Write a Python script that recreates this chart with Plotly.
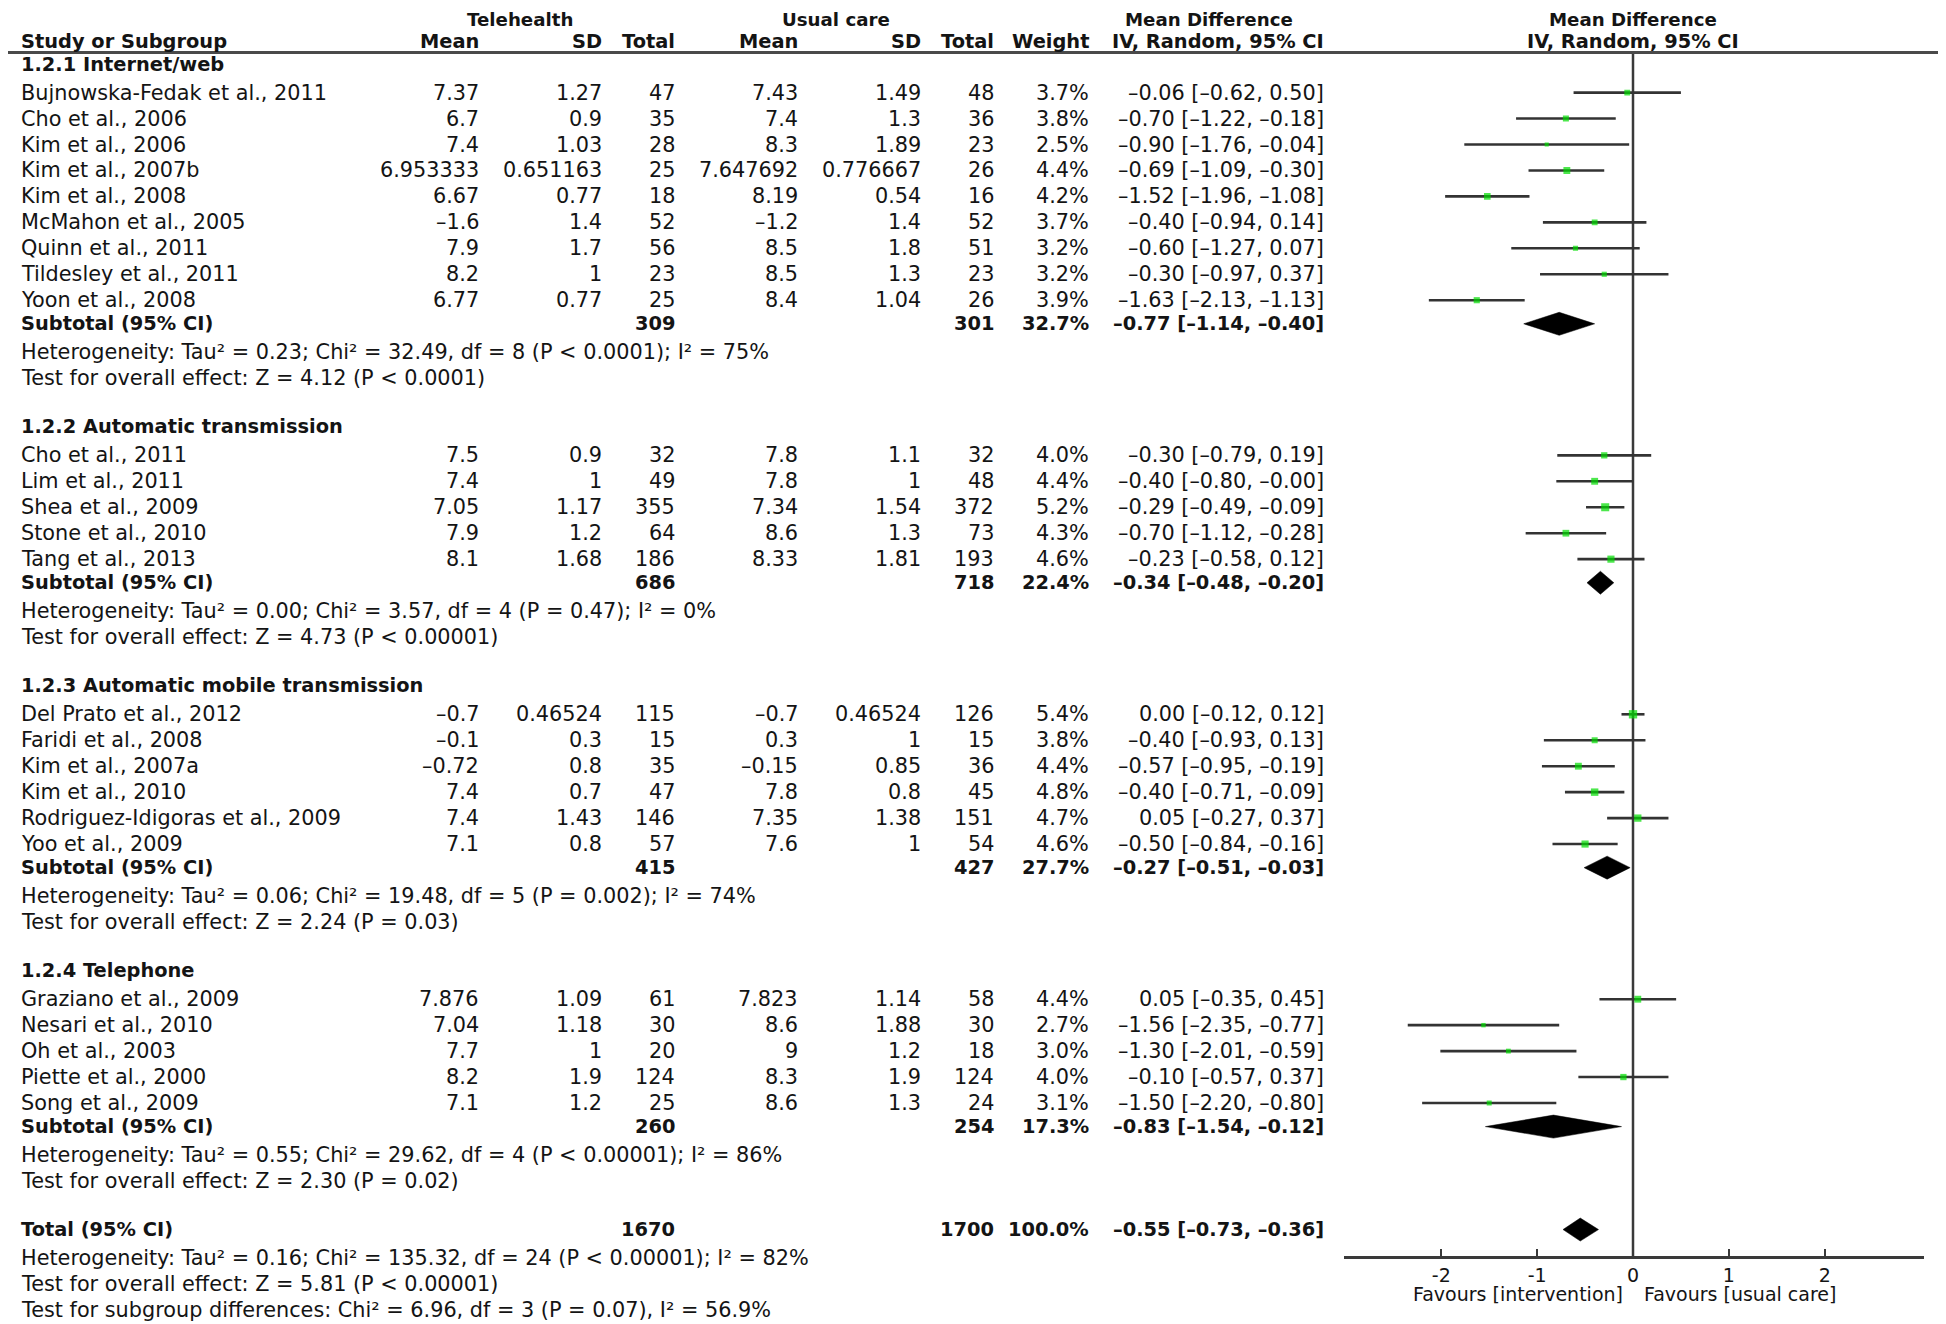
import plotly.graph_objects as go

# ------------------------------------------------------------------ data
GROUP_TITLES = ["1.2.1 Internet/web", "1.2.2 Automatic transmission",
                "1.2.3 Automatic mobile transmission", "1.2.4 Telephone"]

STUDIES = [
    "Bujnowska-Fedak et al., 2011", "Cho et al., 2006", "Kim et al., 2006", "Kim et al., 2007b",
    "Kim et al., 2008", "McMahon et al., 2005", "Quinn et al., 2011", "Tildesley et al., 2011",
    "Yoon et al., 2008",
    "Cho et al., 2011", "Lim et al., 2011", "Shea et al., 2009", "Stone et al., 2010", "Tang et al., 2013",
    "Del Prato et al., 2012", "Faridi et al., 2008", "Kim et al., 2007a", "Kim et al., 2010",
    "Rodriguez-Idigoras et al., 2009", "Yoo et al., 2009",
    "Graziano et al., 2009", "Nesari et al., 2010", "Oh et al., 2003", "Piette et al., 2000",
    "Song et al., 2009",
]
GROUP = [0] * 9 + [1] * 5 + [2] * 6 + [3] * 5

TH_MEAN = [7.37, 6.7, 7.4, 6.953333, 6.67, -1.6, 7.9, 8.2, 6.77,
           7.5, 7.4, 7.05, 7.9, 8.1,
           -0.7, -0.1, -0.72, 7.4, 7.4, 7.1,
           7.876, 7.04, 7.7, 8.2, 7.1]
TH_SD = [1.27, 0.9, 1.03, 0.651163, 0.77, 1.4, 1.7, 1.0, 0.77,
         0.9, 1.0, 1.17, 1.2, 1.68,
         0.46524, 0.3, 0.8, 0.7, 1.43, 0.8,
         1.09, 1.18, 1.0, 1.9, 1.2]
TH_N = [47, 35, 28, 25, 18, 52, 56, 23, 25,
        32, 49, 355, 64, 186,
        115, 15, 35, 47, 146, 57,
        61, 30, 20, 124, 25]
UC_MEAN = [7.43, 7.4, 8.3, 7.647692, 8.19, -1.2, 8.5, 8.5, 8.4,
           7.8, 7.8, 7.34, 8.6, 8.33,
           -0.7, 0.3, -0.15, 7.8, 7.35, 7.6,
           7.823, 8.6, 9.0, 8.3, 8.6]
UC_SD = [1.49, 1.3, 1.89, 0.776667, 0.54, 1.4, 1.8, 1.3, 1.04,
         1.1, 1.0, 1.54, 1.3, 1.81,
         0.46524, 1.0, 0.85, 0.8, 1.38, 1.0,
         1.14, 1.88, 1.2, 1.9, 1.3]
UC_N = [48, 36, 23, 26, 16, 52, 51, 23, 26,
        32, 48, 372, 73, 193,
        126, 15, 36, 45, 151, 54,
        58, 30, 18, 124, 24]
WEIGHT = [3.7, 3.8, 2.5, 4.4, 4.2, 3.7, 3.2, 3.2, 3.9,
          4.0, 4.4, 5.2, 4.3, 4.6,
          5.4, 3.8, 4.4, 4.8, 4.7, 4.6,
          4.4, 2.7, 3.0, 4.0, 3.1]
MD = [-0.06, -0.70, -0.90, -0.69, -1.52, -0.40, -0.60, -0.30, -1.63,
      -0.30, -0.40, -0.29, -0.70, -0.23,
      0.00, -0.40, -0.57, -0.40, 0.05, -0.50,
      0.05, -1.56, -1.30, -0.10, -1.50]
CI_LO = [-0.62, -1.22, -1.76, -1.09, -1.96, -0.94, -1.27, -0.97, -2.13,
         -0.79, -0.80, -0.49, -1.12, -0.58,
         -0.12, -0.93, -0.95, -0.71, -0.27, -0.84,
         -0.35, -2.35, -2.01, -0.57, -2.20]
CI_HI = [0.50, -0.18, -0.04, -0.30, -1.08, 0.14, 0.07, 0.37, -1.13,
         0.19, -0.00, -0.09, -0.28, 0.12,
         0.12, 0.13, -0.19, -0.09, 0.37, -0.16,
         0.45, -0.77, -0.59, 0.37, -0.80]

SUB_TH_N = [309, 686, 415, 260]
SUB_UC_N = [301, 718, 427, 254]
SUB_WEIGHT = [32.7, 22.4, 27.7, 17.3]
SUB_MD = [-0.77, -0.34, -0.27, -0.83]
SUB_LO = [-1.14, -0.48, -0.51, -1.54]
SUB_HI = [-0.40, -0.20, -0.03, -0.12]
SUB_HET = [
    "Heterogeneity: Tau² = 0.23; Chi² = 32.49, df = 8 (P < 0.0001); I² = 75%",
    "Heterogeneity: Tau² = 0.00; Chi² = 3.57, df = 4 (P = 0.47); I² = 0%",
    "Heterogeneity: Tau² = 0.06; Chi² = 19.48, df = 5 (P = 0.002); I² = 74%",
    "Heterogeneity: Tau² = 0.55; Chi² = 29.62, df = 4 (P < 0.00001); I² = 86%",
]
SUB_TEST = [
    "Test for overall effect: Z = 4.12 (P < 0.0001)",
    "Test for overall effect: Z = 4.73 (P < 0.00001)",
    "Test for overall effect: Z = 2.24 (P = 0.03)",
    "Test for overall effect: Z = 2.30 (P = 0.02)",
]

TOTAL_TH_N = 1670
TOTAL_UC_N = 1700
TOTAL_WEIGHT = 100.0
TOTAL_MD = -0.55
TOTAL_LO = -0.73
TOTAL_HI = -0.36
TOTAL_NOTES = [
    "Heterogeneity: Tau² = 0.16; Chi² = 135.32, df = 24 (P < 0.00001); I² = 82%",
    "Test for overall effect: Z = 5.81 (P < 0.00001)",
    "Test for subgroup differences: Chi² = 6.96, df = 3 (P = 0.07), I² = 56.9%",
]

TICKS = [-2, -1, 0, 1, 2]
TICK_LABELS = ["-2", "-1", "0", "1", "2"]
FAVOURS = ["Favours [intervention]", "Favours [usual care]"]

# ------------------------------------------------------------------ layout helpers
SCREEN_W, SCREEN_H = 1946, 1324
OFF = 8                      # default page margin of the html body
W, H = SCREEN_W - OFF, SCREEN_H - OFF
FONT = "DejaVu Sans"
REG = 20.8
BLD = 19.4
HDR1 = 18.2
TXT = "#141414"
GREY = "#3a3a3a"

COL_TH_MEAN, COL_TH_SD, COL_TH_N = 481, 604, 677
COL_UC_MEAN, COL_UC_SD, COL_UC_N = 800, 923, 996
COL_W, COL_CI = 1091, 1326
NAME_X = 19
X0_PX = 1633.0
UNIT_PX = 95.85


def px2paper(x_px):
    return (x_px - OFF) / W


def fmt_raw(v):
    s = repr(float(v))
    if s.endswith(".0"):
        s = s[:-2]
    return s.replace("-", "–")


def fmt2(v):
    return f"{v:.2f}".replace("-", "–")


def ci_text(m, lo, hi):
    return f"{fmt2(m)} [{fmt2(lo)}, {fmt2(hi)}]"


annotations = []


def txt(x_px, y_px, s, anchor="right", bold=False, size=None):
    annotations.append(dict(
        x=px2paper(x_px), xref="paper", y=y_px, yref="y", text=s, showarrow=False,
        xanchor=anchor, yanchor="middle",
        font=dict(family=FONT, size=size or (BLD if bold else REG), color=TXT,
                  weight="bold" if bold else "normal"),
    ))


# header
Y_H1, Y_H2, Y_LINE = 19.5, 41.5, 52.5
txt(520, Y_H1, "Telehealth", "center", True, HDR1)
txt(836, Y_H1, "Usual care", "center", True, HDR1)
txt(1209, Y_H1, "Mean Difference", "center", True, HDR1)
txt(X0_PX, Y_H1, "Mean Difference", "center", True, HDR1)
txt(NAME_X, Y_H2, "Study or Subgroup", "left", True)
for x, s in [(COL_TH_MEAN, "Mean"), (COL_TH_SD, "SD"), (COL_TH_N, "Total"),
             (COL_UC_MEAN, "Mean"), (COL_UC_SD, "SD"), (COL_UC_N, "Total"),
             (COL_W, "Weight"), (COL_CI, "IV, Random, 95% CI")]:
    txt(x, Y_H2, s, "right", True)
txt(X0_PX, Y_H2, "IV, Random, 95% CI", "center", True)

# rows
STEP = 25.95
study_y = [0.0] * len(STUDIES)
sub_y = []
y = 64.0
for g, title in enumerate(GROUP_TITLES):
    txt(NAME_X, y, title, "left", True)
    idx = [i for i, gg in enumerate(GROUP) if gg == g]
    yy = y + 28.6
    for k, i in enumerate(idx):
        study_y[i] = yy + k * STEP
    last = study_y[idx[-1]]
    ys = last + 23.6
    sub_y.append(ys)
    txt(NAME_X, ys, "Subtotal (95% CI)", "left", True)
    txt(COL_TH_N, ys, str(SUB_TH_N[g]), "right", True)
    txt(COL_UC_N, ys, str(SUB_UC_N[g]), "right", True)
    txt(COL_W, ys, f"{SUB_WEIGHT[g]:.1f}%", "right", True)
    txt(COL_CI, ys, ci_text(SUB_MD[g], SUB_LO[g], SUB_HI[g]), "right", True)
    txt(NAME_X, ys + 28.6, SUB_HET[g], "left")
    txt(NAME_X, ys + 28.6 + STEP, SUB_TEST[g], "left")
    y = ys + 28.6 + STEP + 48.4

for i, name in enumerate(STUDIES):
    yy = study_y[i]
    txt(NAME_X, yy, name, "left")
    txt(COL_TH_MEAN, yy, fmt_raw(TH_MEAN[i]))
    txt(COL_TH_SD, yy, fmt_raw(TH_SD[i]))
    txt(COL_TH_N, yy, str(TH_N[i]))
    txt(COL_UC_MEAN, yy, fmt_raw(UC_MEAN[i]))
    txt(COL_UC_SD, yy, fmt_raw(UC_SD[i]))
    txt(COL_UC_N, yy, str(UC_N[i]))
    txt(COL_W, yy, f"{WEIGHT[i]:.1f}%")
    txt(COL_CI, yy, ci_text(MD[i], CI_LO[i], CI_HI[i]))

total_y = y
txt(NAME_X, total_y, "Total (95% CI)", "left", True)
txt(COL_TH_N, total_y, str(TOTAL_TH_N), "right", True)
txt(COL_UC_N, total_y, str(TOTAL_UC_N), "right", True)
txt(COL_W, total_y, f"{TOTAL_WEIGHT:.1f}%", "right", True)
txt(COL_CI, total_y, ci_text(TOTAL_MD, TOTAL_LO, TOTAL_HI), "right", True)
for k, s in enumerate(TOTAL_NOTES):
    txt(NAME_X, total_y + 28.6 + k * STEP, s, "left")

# axis position
AXIS_Y = 1257.0
txt(X0_PX - 8, 1294, FAVOURS[0], "right", size=19)
txt(X0_PX + 9, 1294, FAVOURS[1], "left", size=19)

# ------------------------------------------------------------------ traces
fig = go.Figure()

# zero line
fig.add_trace(go.Scatter(x=[0, 0], y=[Y_LINE, AXIS_Y], mode="lines",
                         line=dict(color=GREY, width=2.5), hoverinfo="skip"))

# CI lines
cx, cy = [], []
for i in range(len(STUDIES)):
    cx += [CI_LO[i], CI_HI[i], None]
    cy += [study_y[i], study_y[i], None]
fig.add_trace(go.Scatter(x=cx, y=cy, mode="lines",
                         line=dict(color="#333333", width=2.6), hoverinfo="skip"))

# point estimates
fig.add_trace(go.Scatter(x=MD, y=study_y, mode="markers",
                         marker=dict(symbol="square", color="#00dd00",
                                     size=[1.45 * w + 0.5 for w in WEIGHT],
                                     line=dict(width=0)),
                         hoverinfo="skip"))

# diamonds
HALF = 11.5
dx, dy = [], []
for g in range(len(GROUP_TITLES)):
    yc = sub_y[g]
    dx += [SUB_LO[g], SUB_MD[g], SUB_HI[g], SUB_MD[g], SUB_LO[g], None]
    dy += [yc, yc - HALF, yc, yc + HALF, yc, None]
dx += [TOTAL_LO, TOTAL_MD, TOTAL_HI, TOTAL_MD, TOTAL_LO]
dy += [total_y, total_y - HALF, total_y, total_y + HALF, total_y]
fig.add_trace(go.Scatter(x=dx, y=dy, mode="lines", fill="toself",
                         fillcolor="black", line=dict(color="black", width=0.5),
                         hoverinfo="skip"))

x_lo_px, x_hi_px = 1344.0, 1923.5
fig.update_layout(
    width=W, height=H, margin=dict(l=0, r=0, t=0, b=0),
    paper_bgcolor="white", plot_bgcolor="white", showlegend=False,
    annotations=annotations,
    shapes=[dict(type="line", xref="paper", yref="y", x0=px2paper(4), x1=px2paper(1943),
                 y0=Y_LINE, y1=Y_LINE, line=dict(color="#4a4a4a", width=3))],
    xaxis=dict(domain=[px2paper(x_lo_px), px2paper(x_hi_px)],
               range=[(x_lo_px - X0_PX) / UNIT_PX, (x_hi_px - X0_PX) / UNIT_PX],
               anchor="free", position=(SCREEN_H - AXIS_Y) / H,
               showline=True, linecolor=GREY, linewidth=2.5,
               ticks="inside", ticklen=7, tickwidth=2, tickcolor=GREY,
               tickvals=TICKS, ticktext=TICK_LABELS,
               tickfont=dict(family=FONT, size=19, color=TXT),
               showgrid=False, zeroline=False, fixedrange=True),
    yaxis=dict(domain=[0, 1], range=[SCREEN_H, OFF], visible=False, fixedrange=True),
)

fig.write_html("out.html")
